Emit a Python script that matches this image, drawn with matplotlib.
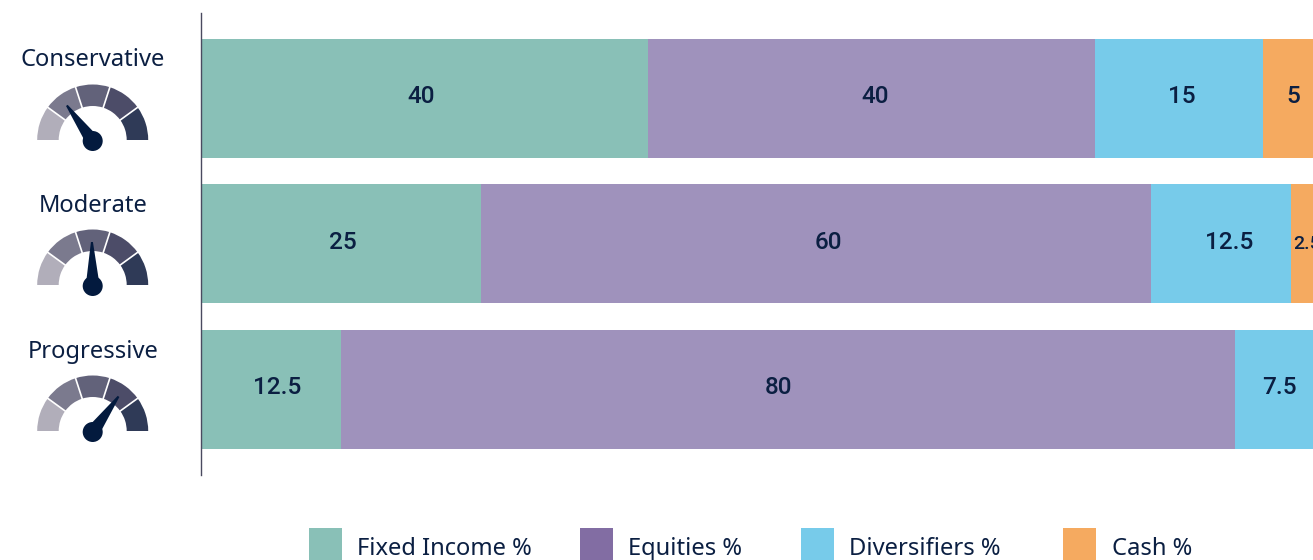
import matplotlib
matplotlib.use('Agg')
import numpy as np
import matplotlib.pyplot as plt
from matplotlib.patches import Wedge, Circle, Polygon, Rectangle

plt.rcParams['font.family'] = ['Noto Sans', 'DejaVu Sans']

profiles = ['Conservative', 'Moderate', 'Progressive']
fixed_income = [40, 25, 12.5]
equities = [40, 60, 80]
diversifiers = [15, 12.5, 7.5]
cash = [5, 2.5, 0]
needle_angles = [126, 91, 54]
legend_names = ['Fixed Income %', 'Equities %', 'Diversifiers %', 'Cash %']

W, H = 1313, 560
navy = '#0b1f42'
bar_colors = ['#89c0b7', '#9f92bc', '#77cbea', '#f5aa60']
legend_colors = ['#89c0b7', '#826da3', '#77cbea', '#f5aa60']
gauge_colors = ['#b1aeba', '#7b7a8e', '#62627a', '#4c4c68', '#2f3a57']

fig = plt.figure(figsize=(W / 100, H / 100), dpi=100, facecolor='white')
ax = fig.add_axes([201 / W, 1 - 475 / H, (W - 201) / W, 462 / H])

series = [fixed_income, equities, diversifiers, cash]
# nudges (px) because the labels in the original are not quite centred
nudge = [[-3, 2, 6], [3, 12, -9.5], [3, 8, 2], [2, 2, 0]]
y = np.arange(len(profiles))
left = np.zeros(len(profiles))
for s, values in enumerate(series):
    values = np.array(values, dtype=float)
    ax.barh(y, values, left=left, height=0.818, color=bar_colors[s], linewidth=0)
    for i, v in enumerate(values):
        if v == 0:
            continue
        small = v < 5
        ax.annotate(f'{v:g}', (left[i] + v / 2, i),
                    xytext=(nudge[s][i] * 0.72, -0.5 if small else 1.2),
                    textcoords='offset points', ha='center', va='center',
                    fontsize=14 if small else 17.5, fontweight='medium',
                    family=['Roboto', 'DejaVu Sans'], color=navy)
    left += values

ax.set_xlim(0, (W - 201) / 11.18)
ax.set_ylim(2.590, -0.5865)
ax.set_xticks([])
ax.set_yticks([])
for side in ['top', 'right', 'bottom']:
    ax.spines[side].set_visible(False)
ax.spines['left'].set_color('#4a4a60')
ax.spines['left'].set_linewidth(1.0)

# overlay in pixel coordinates for the gauges and the legend
ov = fig.add_axes([0, 0, 1, 1])
ov.set_xlim(0, W)
ov.set_ylim(H, 0)
ov.axis('off')
ov.patch.set_alpha(0)

cx = 92.7
r_out, r_in = 55.5, 34
base_y = [140, 285, 431]
for name, by, angle in zip(profiles, base_y, needle_angles):
    ov.text(cx, by - 73.5, name, ha='center', va='baseline', fontsize=17.1, color=navy)
    # y axis is flipped, so gauge angles go negative
    for k, c in enumerate(gauge_colors):
        ov.add_patch(Wedge((cx, by), r_out, -180 + 36 * k, -144 + 36 * k,
                           width=r_out - r_in, facecolor=c, linewidth=0))
    for k in range(1, 5):
        t = np.radians(180 - 36 * k)
        ov.plot([cx + (r_in - 1) * np.cos(t), cx + (r_out + 1) * np.cos(t)],
                [by - (r_in - 1) * np.sin(t), by - (r_out + 1) * np.sin(t)],
                color='white', lw=1.2, solid_capstyle='butt')
    t = np.radians(angle)
    hub = (cx, by + 1)
    tip = (cx + 44 * np.cos(t), hub[1] - 44 * np.sin(t))
    px, py = np.sin(t), np.cos(t)
    ov.add_patch(Polygon([(hub[0] - 7 * px, hub[1] - 7 * py), (hub[0] + 7 * px, hub[1] + 7 * py),
                          (tip[0] + px, tip[1] + py), (tip[0] - px, tip[1] - py)],
                         facecolor='#031a3e', linewidth=0))
    ov.add_patch(Circle(hub, 10, facecolor='#031a3e', linewidth=0))

swatch_x = [309, 580, 801, 1063]
text_x = [357, 628, 849, 1112]
for name, c, sx, tx in zip(legend_names, legend_colors, swatch_x, text_x):
    ov.add_patch(Rectangle((sx, 528), 33, 33, facecolor=c, linewidth=0))
    ov.text(tx, 555, name, ha='left', va='baseline', fontsize=17.1, color=navy)

fig.savefig('out.png', dpi=100)
